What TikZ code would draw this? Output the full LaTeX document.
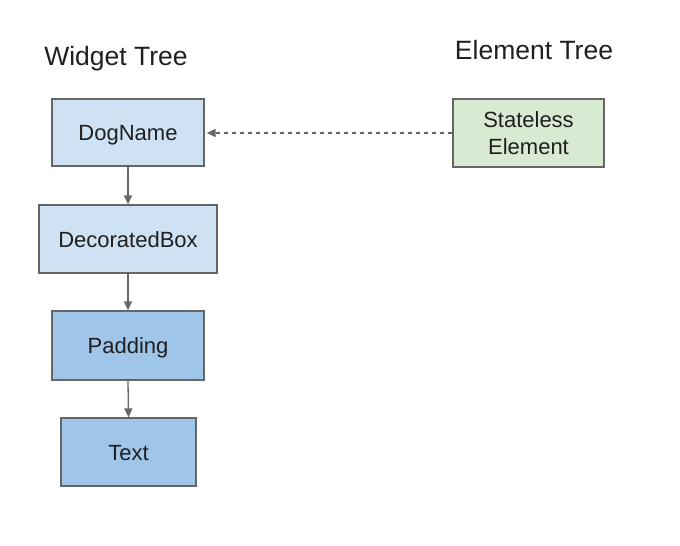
\documentclass[tikz,border=0pt]{standalone}
\usepackage{fontspec}
\setmainfont{Liberation Sans}
\usetikzlibrary{arrows.meta}
\definecolor{lightblue}{HTML}{CFE2F3}
\definecolor{midblue}{HTML}{9FC5E8}
\definecolor{lightgreen}{HTML}{D9EAD3}
\definecolor{edge}{HTML}{666666}
\definecolor{ink}{HTML}{1F1F1F}
\tikzset{
  box/.style={draw=edge, line width=1.3pt, text=ink, inner sep=0pt, align=center,
    font=\fontsize{22}{27.5}\selectfont},
  oneline/.style={box, text height=16pt, text depth=0pt},
  title/.style={text=ink, inner sep=0pt, font=\fontsize{26.5}{32}\selectfont},
  conn/.style={draw=edge, line width=1.3pt, -{Triangle[length=9pt,width=8pt]}},
  ref/.style={conn, dash pattern=on 4.5pt off 3.5pt, shorten >=2pt}
}
\begin{document}
\begin{tikzpicture}[x=1pt,y=-1pt]
\useasboundingbox (0,0) rectangle (680,546);
\node[title, anchor=base] (wt) at (116,65) {Widget Tree};
\node[title, anchor=base] (et) at (534,59) {Element Tree};
\node[oneline, fill=lightblue, minimum width=152pt, minimum height=67pt] (dog) at (128,132.5) {DogName};
\node[oneline, fill=lightblue, minimum width=178pt, minimum height=68pt] (deco) at (128,239) {DecoratedBox};
\node[oneline, fill=midblue, minimum width=152pt, minimum height=69pt] (pad) at (128,345.5) {Padding};
\node[oneline, fill=midblue, minimum width=135pt, minimum height=68pt] (txt) at (128.5,452) {Text};
\node[box, fill=lightgreen, minimum width=151pt, minimum height=68pt] (sel) at (528.5,133) {Stateless\\Element};
\draw[conn] (dog.south) -- (deco.north);
\draw[conn] (deco.south) -- (pad.north);
\draw[conn] (pad.south) -- (txt.north);
\draw[ref] (sel.west) -- (sel.west -| dog.east);
\end{tikzpicture}
\end{document}
